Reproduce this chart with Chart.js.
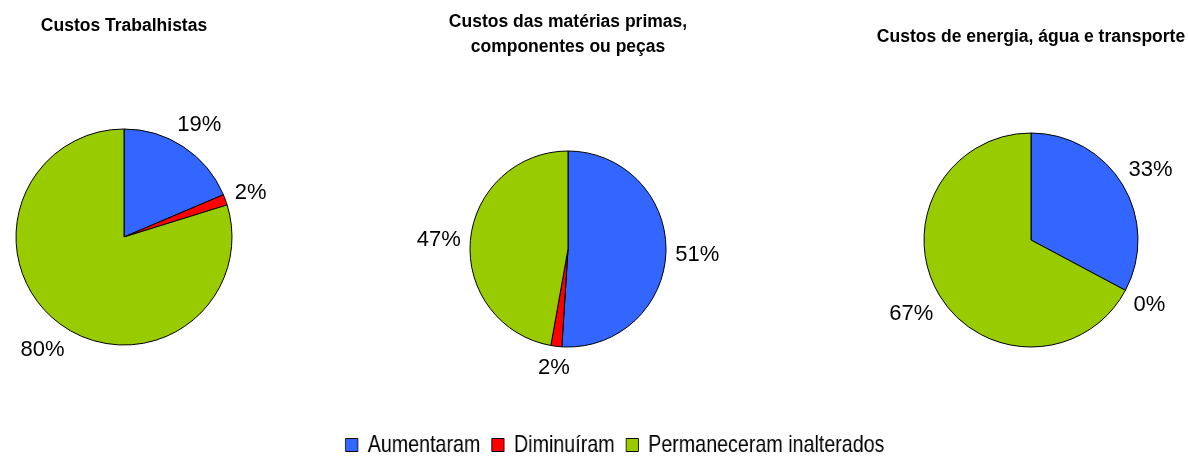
<!DOCTYPE html>
<html>
<head>
<meta charset="utf-8">
<script src="https://cdn.jsdelivr.net/npm/chart.js@4.4.1/dist/chart.umd.min.js"></script>
<style>
    html, body { margin: 0; padding: 0; background: #fff; }
    body { width: 1188px; height: 457px; position: relative; overflow: hidden; }
    .caixa { position: absolute; }
    .caixa canvas { display: block; }
    /* a legenda original usa uma fonte estreita: comprime-se o canvas */
    #caixa4 { transform: scaleX(0.82); transform-origin: 50% 50%; }
</style>
</head>
<body>
<div class="caixa" id="caixa1"><canvas id="grafico1"></canvas></div>
<div class="caixa" id="caixa2"><canvas id="grafico2"></canvas></div>
<div class="caixa" id="caixa3"><canvas id="grafico3"></canvas></div>
<div class="caixa" id="caixa4"><canvas id="grafico4"></canvas></div>
<script>
// Dados
const categorias = ['Aumentaram', 'Diminuíram', 'Permaneceram inalterados'];
const cores = ['#3366FF', '#FF0000', '#99CC00'];

const titulo1 = 'Custos Trabalhistas';
const titulo2 = ['Custos das matérias primas,', 'componentes ou peças'];
const titulo3 = 'Custos de energia, água e transporte';

const valores1 = [18.6, 1.6, 79.8];
const valores2 = [51.0, 1.8, 47.2];
const valores3 = [32.8, 0, 67.2];

const fonteBase = "'Liberation Sans', Arial, sans-serif";
Chart.defaults.font.family = fonteBase;
Chart.defaults.color = '#000';

// Rótulos de percentagem fora das fatias
const rotulosExternos = {
    id: 'rotulosExternos',
    afterDatasetsDraw(chart) {
        const meta = chart.getDatasetMeta(0);
        const valores = chart.data.datasets[0].data;
        const total = valores.reduce((a, b) => a + b, 0);
        const ctx = chart.ctx;
        ctx.save();
        ctx.font = '22px ' + fonteBase;
        ctx.fillStyle = '#000';
        ctx.textAlign = 'center';
        ctx.textBaseline = 'middle';
        meta.data.forEach((arco, i) => {
            const p = arco.getProps(['x', 'y', 'startAngle', 'endAngle', 'outerRadius'], true);
            const meio = (p.startAngle + p.endAngle) / 2;
            const texto = Math.round(valores[i] / total * 100) + '%';
            const meiaLarg = ctx.measureText(texto).width / 2;
            const dist = p.outerRadius + 9 + Math.abs(Math.cos(meio)) * meiaLarg + Math.abs(Math.sin(meio)) * 9;
            ctx.fillText(texto, p.x + Math.cos(meio) * dist, p.y + Math.sin(meio) * dist + 2);
        });
        ctx.restore();
    }
};

function criarPizza(n, valores, titulo, cx, cy, raio, tituloY) {
    const larg = 400, alt = 420;
    const caixa = document.getElementById('caixa' + n);
    caixa.style.left = (cx - larg / 2) + 'px';
    caixa.style.top = '0px';
    const canvas = document.getElementById('grafico' + n);
    canvas.width = larg;
    canvas.height = alt;

    const tamTitulo = 17.5;
    const altLinha = 25;
    const nLinhas = Array.isArray(titulo) ? titulo.length : 1;
    const lado = 2 * raio + 1;
    const topoArea = cy - lado / 2;
    const padTitTopo = tituloY - altLinha / 2;
    const padTitBase = topoArea - padTitTopo - nLinhas * altLinha;

    return new Chart(canvas, {
        type: 'pie',
        data: {
            labels: categorias,
            datasets: [{
                data: valores,
                backgroundColor: cores,
                borderColor: '#000',
                borderWidth: 1,
                hoverBorderWidth: 1
            }]
        },
        options: {
            responsive: false,
            animation: false,
            events: [],
            layout: {
                padding: { top: 0, left: 20, right: 20, bottom: alt - topoArea - lado }
            },
            plugins: {
                legend: { display: false },
                tooltip: { enabled: false },
                title: {
                    display: true,
                    text: titulo,
                    color: '#000',
                    font: { size: tamTitulo, weight: 'bold', lineHeight: altLinha / tamTitulo },
                    padding: { top: padTitTopo, bottom: padTitBase }
                }
            }
        },
        plugins: [rotulosExternos]
    });
}

criarPizza(1, valores1, titulo1, 124, 237, 108, 26);
criarPizza(2, valores2, titulo2, 568, 249, 98, 22);
criarPizza(3, valores3, titulo3, 1031, 240, 107, 37);

// Legenda comum
const caixaLegenda = document.getElementById('caixa4');
caixaLegenda.style.left = '21px';
caixaLegenda.style.top = '419px';
const canvasLegenda = document.getElementById('grafico4');
canvasLegenda.width = 1188;
canvasLegenda.height = 140;

new Chart(canvasLegenda, {
    type: 'pie',
    data: { labels: categorias, datasets: [] },
    options: {
        responsive: false,
        animation: false,
        events: [],
        layout: { padding: 0 },
        plugins: {
            tooltip: { enabled: false },
            legend: {
                display: true,
                position: 'top',
                labels: {
                    boxWidth: 15,
                    boxHeight: 13,
                    padding: 14,
                    color: '#000',
                    font: { size: 24 },
                    generateLabels: () => categorias.map((c, i) => ({
                        text: c,
                        fillStyle: cores[i],
                        strokeStyle: '#000',
                        lineWidth: 1,
                        hidden: false,
                        index: i
                    }))
                }
            }
        }
    }
});
</script>
</body>
</html>
